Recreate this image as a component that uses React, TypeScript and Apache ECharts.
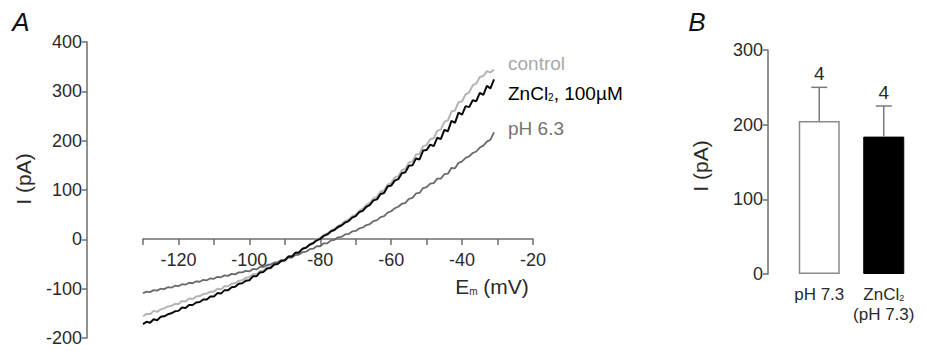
import React, { useEffect, useRef } from 'react';
import * as echarts from 'echarts';

// ---------- Panel A: I–V curves ----------
const voltage = [
  -130, -129, -128, -127, -126, -125, -124, -123, -122, -121,
  -120, -119, -118, -117, -116, -115, -114, -113, -112, -111,
  -110, -109, -108, -107, -106, -105, -104, -103, -102, -101,
  -100, -99, -98, -97, -96, -95, -94, -93, -92, -91,
  -90, -89, -88, -87, -86, -85, -84, -83, -82, -81,
  -80, -79, -78, -77, -76, -75, -74, -73, -72, -71,
  -70, -69, -68, -67, -66, -65, -64, -63, -62, -61,
  -60, -59, -58, -57, -56, -55, -54, -53, -52, -51,
  -50, -49, -48, -47, -46, -45, -44, -43, -42, -41,
  -40, -39, -38, -37, -36, -35, -34, -33, -32, -31,
];

const controlI = [
  -156, -151, -152, -145, -147, -142, -140, -136, -135, -131,
  -131, -125, -126, -120, -121, -116, -115, -111, -110, -106,
  -106, -100, -101, -95, -95, -90, -89, -84, -83, -78,
  -77, -71, -71, -64, -63, -57, -56, -50, -48, -43,
  -41, -34, -34, -27, -25, -19, -16, -10, -7, 0,
  3, 9, 12, 18, 21, 27, 30, 37, 40, 47,
  50, 58, 62, 70, 74, 83, 86, 97, 99, 111,
  114, 125, 128, 140, 143, 156, 158, 172, 173, 189,
  191, 203, 205, 220, 223, 238, 241, 259, 261, 278,
  280, 294, 298, 312, 316, 329, 331, 341, 338, 344,
];

const zincI = [
  -172, -167, -169, -162, -164, -157, -156, -152, -150, -146,
  -145, -138, -139, -133, -133, -128, -127, -122, -122, -116,
  -116, -109, -110, -103, -103, -97, -96, -90, -89, -84,
  -83, -75, -75, -67, -66, -59, -58, -51, -50, -44,
  -43, -35, -35, -27, -27, -19, -17, -11, -8, -2,
  1, 7, 10, 16, 19, 25, 28, 34, 37, 44,
  47, 55, 58, 66, 70, 79, 81, 92, 94, 107,
  109, 119, 122, 134, 136, 149, 150, 164, 162, 180,
  181, 192, 189, 206, 203, 222, 219, 240, 236, 257,
  253, 270, 268, 282, 280, 297, 293, 311, 306, 324,
];

const ph63I = [
  -109, -106, -107, -103, -104, -100, -101, -97, -98, -94,
  -95, -91, -92, -88, -89, -85, -86, -82, -83, -79,
  -80, -76, -77, -73, -74, -70, -71, -67, -67, -64,
  -65, -60, -61, -56, -56, -52, -51, -47, -46, -42,
  -42, -37, -37, -32, -31, -26, -25, -20, -19, -14,
  -14, -8, -8, -2, -1, 4, 5, 10, 11, 16,
  17, 22, 24, 29, 31, 37, 39, 45, 47, 54,
  57, 63, 66, 72, 74, 82, 84, 93, 94, 104,
  106, 113, 114, 123, 123, 132, 133, 145, 144, 155,
  158, 165, 168, 175, 178, 186, 190, 198, 202, 217,
];

// ---------- Panel B: bar summary ----------
const barCategories = ['pH 7.3', 'ZnCl2 (pH 7.3)'];
const barMeans = [205, 184];
const barSem = [45, 41];
const barN = [4, 4];

const FONT = '"Liberation Sans", Arial, Helvetica, sans-serif';
const AXIS_COLOR = '#6e6e6e';
const TEXT_COLOR = '#2a2a2a';

const pair = (xs: number[], ys: number[]) => xs.map((x, i) => [x, ys[i]]);

export default function App() {
  const ref = useRef<HTMLDivElement>(null);

  useEffect(() => {
    if (!ref.current) return;
    const chart = echarts.init(ref.current, undefined, { renderer: 'svg' });

    const subRich = {
      a: { fontFamily: FONT, fontSize: 19, color: TEXT_COLOR },
      s: { fontFamily: FONT, fontSize: 10, color: TEXT_COLOR, padding: [9, 0, 0, 0] },
    };

    const option: any = {
      animation: false,
      backgroundColor: '#ffffff',
      grid: [
        // data area of panel A (y axis drawn here)
        { left: 143, top: 42, width: 390, height: 296 },
        // panel B
        { left: 787, top: 50, width: 129, height: 224 },
        // panel A x axis, whose bottom edge sits at I = 0
        { left: 143, top: 42, width: 390, height: 197 },
      ],
      xAxis: [
        {
          gridIndex: 0,
          type: 'value',
          min: -130,
          max: -20,
          interval: 10,
          show: false,
        },
        {
          gridIndex: 1,
          type: 'category',
          data: barCategories,
          axisLine: { show: false },
          axisTick: { show: false },
          axisLabel: {
            margin: 10,
            interval: 0,
            lineHeight: 20,
            formatter: (v: string) =>
              v.startsWith('ZnCl2') ? '{b|ZnCl}{t|2}\n{b|(pH 7.3)}' : '{b|' + v + '}',
            rich: {
              b: { fontFamily: FONT, fontSize: 17, color: TEXT_COLOR, lineHeight: 20 },
              t: { fontFamily: FONT, fontSize: 9, color: TEXT_COLOR, lineHeight: 20, padding: [8, 0, 0, 0] },
            },
          },
        },
        {
          gridIndex: 2,
          type: 'value',
          min: -130,
          max: -20,
          interval: 10,
          position: 'bottom',
          axisLine: { show: true, onZero: false, lineStyle: { color: AXIS_COLOR, width: 1.5 } },
          axisTick: { show: true, length: 6, lineStyle: { color: AXIS_COLOR, width: 1.5 } },
          splitLine: { show: false },
          axisLabel: {
            margin: 12,
            fontFamily: FONT,
            fontSize: 18,
            color: TEXT_COLOR,
            formatter: (v: number) => (v % 20 === 0 ? String(v) : ''),
          },
        },
      ],
      yAxis: [
        {
          gridIndex: 0,
          type: 'value',
          min: -200,
          max: 400,
          interval: 100,
          offset: 56,
          position: 'left',
          axisLine: { show: true, onZero: false, lineStyle: { color: AXIS_COLOR, width: 1.5 } },
          axisTick: { show: true, length: 5, lineStyle: { color: AXIS_COLOR, width: 1.5 } },
          splitLine: { show: false },
          axisLabel: { margin: 5, fontFamily: FONT, fontSize: 18, color: TEXT_COLOR },
        },
        {
          gridIndex: 1,
          type: 'value',
          min: 0,
          max: 300,
          interval: 100,
          offset: 19,
          position: 'left',
          axisLine: { show: true, lineStyle: { color: AXIS_COLOR, width: 1.5 } },
          axisTick: { show: true, length: 5, lineStyle: { color: AXIS_COLOR, width: 1.5 } },
          splitLine: { show: false },
          axisLabel: { margin: 5, fontFamily: FONT, fontSize: 18, color: TEXT_COLOR },
        },
        {
          gridIndex: 2,
          type: 'value',
          min: 0,
          max: 1,
          show: false,
        },
      ],
      series: [
        {
          name: 'control',
          type: 'line',
          xAxisIndex: 0,
          yAxisIndex: 0,
          data: pair(voltage, controlI),
          showSymbol: false,
          lineStyle: { color: '#b4b4b4', width: 2 },
          z: 2,
        },
        {
          name: 'pH 6.3',
          type: 'line',
          xAxisIndex: 0,
          yAxisIndex: 0,
          data: pair(voltage, ph63I),
          showSymbol: false,
          lineStyle: { color: '#6a6a6a', width: 1.8 },
          z: 3,
        },
        {
          name: 'ZnCl2, 100µM',
          type: 'line',
          xAxisIndex: 0,
          yAxisIndex: 0,
          data: pair(voltage, zincI),
          showSymbol: false,
          lineStyle: { color: '#0a0a0a', width: 2 },
          z: 4,
        },
        {
          name: 'mean',
          type: 'bar',
          xAxisIndex: 1,
          yAxisIndex: 1,
          barWidth: 41,
          data: barMeans.map((v, i) => ({
            value: v,
            itemStyle:
              i === 0
                ? { color: '#ffffff', borderColor: '#8a8a8a', borderWidth: 1.5 }
                : { color: '#000000', borderColor: '#000000', borderWidth: 1 },
          })),
          z: 3,
        },
        {
          name: 'sem',
          type: 'custom',
          xAxisIndex: 1,
          yAxisIndex: 1,
          data: barMeans.map((m, i) => [i, m, m + barSem[i], barN[i]]),
          renderItem: (params: any, api: any) => {
            const base = api.coord([api.value(0), api.value(1)]);
            const top = api.coord([api.value(0), api.value(2)]);
            const cap = 8;
            return {
              type: 'group',
              children: [
                {
                  type: 'line',
                  shape: { x1: base[0], y1: base[1], x2: top[0], y2: top[1] },
                  style: { stroke: '#7a7a7a', lineWidth: 1.5 },
                },
                {
                  type: 'line',
                  shape: { x1: top[0] - cap, y1: top[1], x2: top[0] + cap, y2: top[1] },
                  style: { stroke: '#7a7a7a', lineWidth: 1.5 },
                },
                {
                  type: 'text',
                  x: top[0],
                  y: top[1] - 14,
                  style: {
                    text: String(api.value(3)),
                    fontFamily: FONT,
                    fontSize: 19,
                    fill: TEXT_COLOR,
                    align: 'center',
                    verticalAlign: 'middle',
                  },
                },
              ],
            };
          },
          z: 5,
        },
      ],
      graphic: [
        {
          type: 'text',
          x: 21,
          y: 22,
          style: { text: 'A', font: 'italic 26px ' + FONT, fill: '#111', align: 'center', verticalAlign: 'middle' },
        },
        {
          type: 'text',
          x: 697,
          y: 22,
          style: { text: 'B', font: 'italic 26px ' + FONT, fill: '#111', align: 'center', verticalAlign: 'middle' },
        },
        {
          type: 'text',
          x: 23,
          y: 179,
          rotation: Math.PI / 2,
          style: { text: 'I (pA)', font: '21px ' + FONT, fill: TEXT_COLOR, align: 'center', verticalAlign: 'middle' },
        },
        {
          type: 'text',
          x: 700,
          y: 166,
          rotation: Math.PI / 2,
          style: { text: 'I (pA)', font: '21px ' + FONT, fill: TEXT_COLOR, align: 'center', verticalAlign: 'middle' },
        },
        {
          type: 'text',
          x: 492,
          y: 286,
          style: {
            text: '{e|E}{m|m}{e| (mV)}',
            align: 'center',
            verticalAlign: 'middle',
            rich: {
              e: { fontFamily: FONT, fontSize: 21, fill: TEXT_COLOR },
              m: { fontFamily: FONT, fontSize: 10, fill: TEXT_COLOR, padding: [10, 0, 0, 0] },
            },
          },
        },
        {
          type: 'text',
          x: 508,
          y: 63,
          style: { text: 'control', font: '19px ' + FONT, fill: '#a8a8a8', align: 'left', verticalAlign: 'middle' },
        },
        {
          type: 'text',
          x: 508,
          y: 93,
          style: {
            text: '{a|ZnCl}{s|2}{a|, 100µM}',
            align: 'left',
            verticalAlign: 'middle',
            rich: subRich,
          },
        },
        {
          type: 'text',
          x: 508,
          y: 128,
          style: { text: 'pH 6.3', font: '19px ' + FONT, fill: '#737373', align: 'left', verticalAlign: 'middle' },
        },
      ],
    };

    chart.setOption(option);
    return () => chart.dispose();
  }, []);

  return (
    <div
      ref={ref}
      style={{ position: 'fixed', left: 0, top: 0, width: 926, height: 351, background: '#fff' }}
    />
  );
}
